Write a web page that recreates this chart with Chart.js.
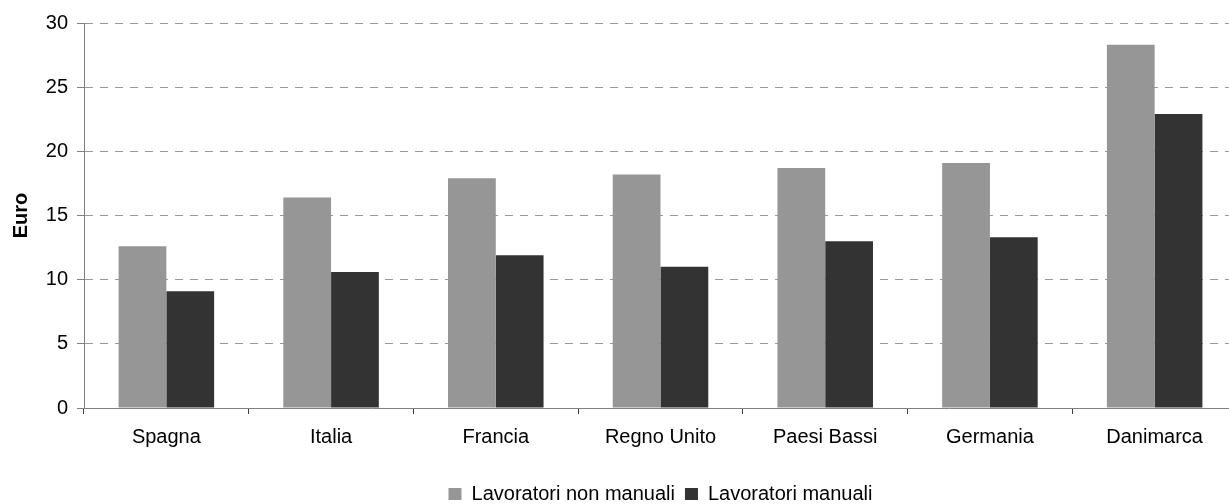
<!DOCTYPE html>
<html>
<head>
<meta charset="utf-8">
<script src="https://cdn.jsdelivr.net/npm/chart.js@4/dist/chart.umd.min.js"></script>
<style>
  html, body { margin: 0; padding: 0; overflow: hidden; background: #fff; }
  /* plot area in the reference runs a few px past the right and bottom edges */
  #wrap { width: 1237px; height: 514px; }
</style>
</head>
<body>
<div id="wrap"><canvas id="chart"></canvas></div>
<script>
const categories = ['Spagna', 'Italia', 'Francia', 'Regno Unito', 'Paesi Bassi', 'Germania', 'Danimarca'];
const nonManuali = [12.6, 16.4, 17.9, 18.2, 18.7, 19.1, 28.3];
const manuali = [9.1, 10.6, 11.9, 11.0, 13.0, 13.3, 22.9];
const yTicks = [0, 5, 10, 15, 20, 25, 30];

const FONT = 'Liberation Sans, Arial, sans-serif';
const LIGHT = '#969696';
const DARK = '#333333';
const AXIS = '#808080';

new Chart(document.getElementById('chart'), {
  type: 'bar',
  data: {
    labels: categories,
    datasets: [
      {
        label: 'Lavoratori non manuali',
        data: nonManuali,
        backgroundColor: LIGHT,
        borderWidth: 0,
        categoryPercentage: 0.58,
        barPercentage: 1,
      },
      {
        label: 'Lavoratori manuali',
        data: manuali,
        backgroundColor: DARK,
        borderWidth: 0,
        categoryPercentage: 0.58,
        barPercentage: 1,
      },
    ],
  },
  options: {
    responsive: true,
    maintainAspectRatio: false,
    animation: false,
    layout: { padding: { top: 23, left: 0, right: 0, bottom: 0 } },
    plugins: {
      tooltip: { enabled: false },
      legend: {
        position: 'bottom',
        fullSize: false,
        labels: {
          color: '#000',
          font: { family: FONT, size: 20 },
          boxWidth: 13,
          boxHeight: 12,
          padding: 10,
        },
      },
    },
    scales: {
      x: {
        offset: true,
        grid: {
          display: true,
          drawOnChartArea: false,
          drawTicks: true,
          tickLength: 6,
          tickColor: '#404040',
        },
        border: { display: true, color: AXIS, width: 1 },
        ticks: {
          color: '#000',
          font: { family: FONT, size: 20 },
          padding: 11,
          maxRotation: 0,
          autoSkip: false,
        },
        afterFit: (scale) => { scale.height = 66; },
      },
      y: {
        min: 0,
        max: 30,
        afterBuildTicks: (scale) => { scale.ticks = yTicks.map((v) => ({ value: v })); },
        grid: {
          color: (ctx) => (ctx.tick && ctx.tick.value === 0 ? 'rgba(0,0,0,0)' : '#999999'),
          tickColor: AXIS,
          tickLength: 7,
          drawTicks: true,
        },
        border: { display: true, color: AXIS, width: 1, dash: [8, 7] },
        ticks: {
          color: '#000',
          font: { family: FONT, size: 20 },
          padding: 9,
        },
        title: {
          display: true,
          text: 'Euro',
          color: '#000',
          font: { family: FONT, size: 20, weight: 'bold' },
          padding: { top: 9, bottom: 0 },
        },
        afterFit: (scale) => { scale.width = 84; },
      },
    },
  },
});
</script>
</body>
</html>
